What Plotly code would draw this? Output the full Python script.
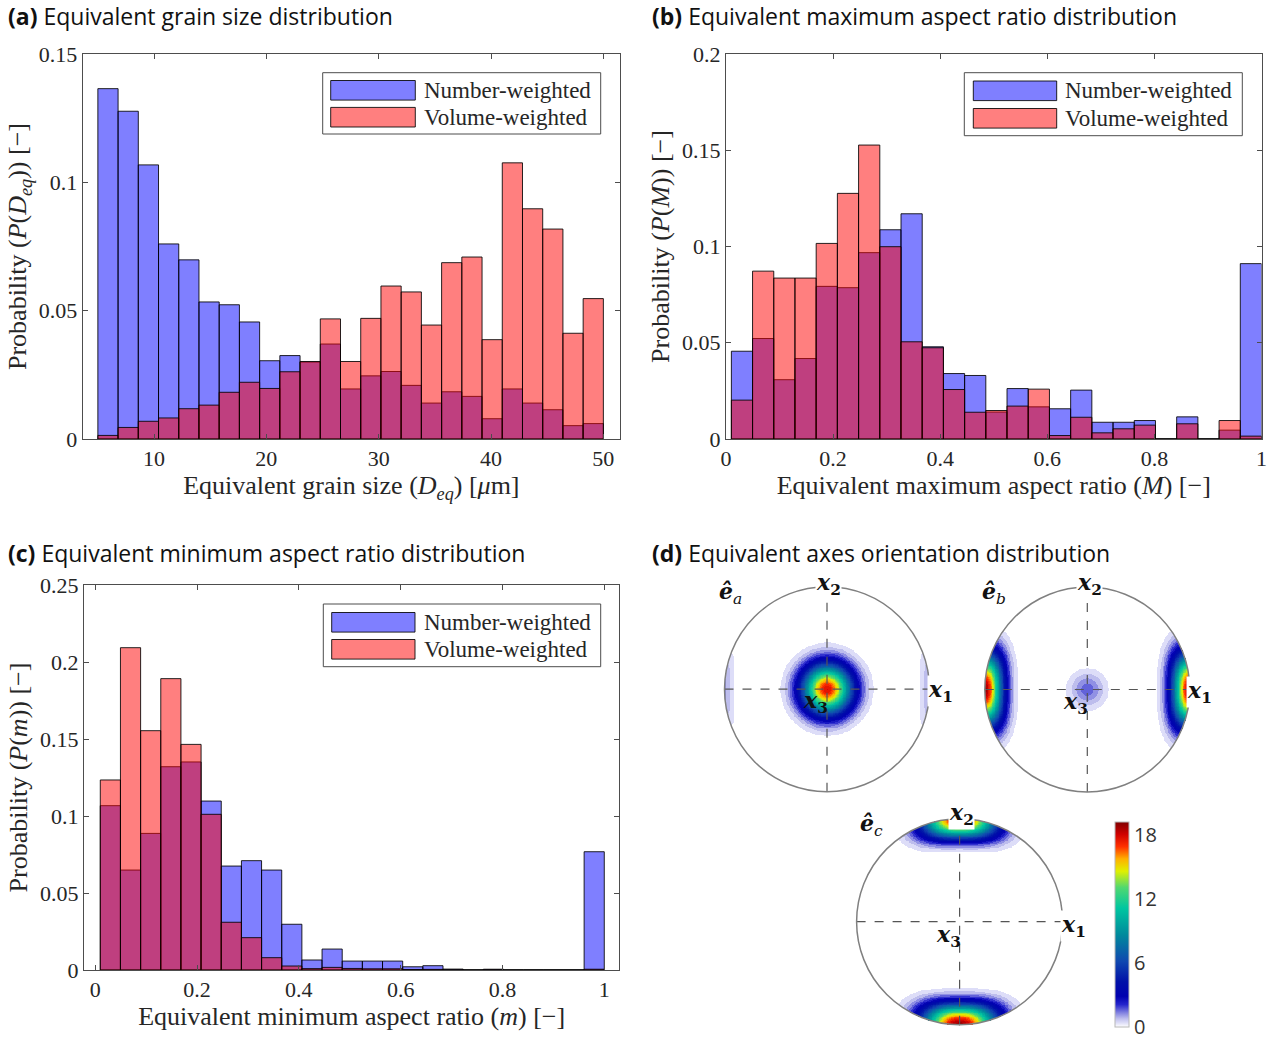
import numpy as np
import plotly.graph_objects as go

W, H = 1279, 1039

# ---------------- data ----------------
grain_size_edges = [5.0, 6.8, 8.6, 10.4, 12.2, 14.0, 15.8, 17.6, 19.4, 21.2, 23.0, 24.8, 26.6,
                    28.4, 30.2, 32.0, 33.8, 35.6, 37.4, 39.2, 41.0, 42.8, 44.6, 46.4, 48.2, 50.0]
grain_size_number = [0.1365, 0.1277, 0.1068, 0.0760, 0.0698, 0.0534, 0.0523, 0.0456, 0.0305,
                     0.0325, 0.0300, 0.0370, 0.0195, 0.0246, 0.0263, 0.0209, 0.0140, 0.0184,
                     0.0166, 0.0079, 0.0195, 0.0140, 0.0114, 0.0052, 0.0060]
grain_size_volume = [0.0014, 0.0045, 0.0069, 0.0082, 0.0118, 0.0132, 0.0182, 0.0221, 0.0197,
                     0.0262, 0.0302, 0.0468, 0.0302, 0.0470, 0.0596, 0.0573, 0.0444, 0.0687,
                     0.0709, 0.0387, 0.1076, 0.0897, 0.0818, 0.0412, 0.0547]

aspect_edges = [0.0100, 0.0496, 0.0892, 0.1288, 0.1684, 0.2080, 0.2476, 0.2872, 0.3268,
                0.3664, 0.4060, 0.4456, 0.4852, 0.5248, 0.5644, 0.6040, 0.6436, 0.6832,
                0.7228, 0.7624, 0.8020, 0.8416, 0.8812, 0.9208, 0.9604, 1.0000]
max_aspect_number = [0.0456, 0.0522, 0.0308, 0.0418, 0.0793, 0.0786, 0.0968, 0.1087, 0.1170,
                     0.0479, 0.0340, 0.0330, 0.0140, 0.0262, 0.0167, 0.0157, 0.0254, 0.0087,
                     0.0087, 0.0096, 0.0000, 0.0115, 0.0000, 0.0046, 0.0911]
max_aspect_volume = [0.0202, 0.0872, 0.0836, 0.0836, 0.1016, 0.1276, 0.1527, 0.0999, 0.0505,
                     0.0474, 0.0257, 0.0139, 0.0148, 0.0171, 0.0259, 0.0018, 0.0113, 0.0032,
                     0.0053, 0.0072, 0.0000, 0.0079, 0.0000, 0.0096, 0.0015]
min_aspect_number = [0.1067, 0.0649, 0.0887, 0.1320, 0.1351, 0.1097, 0.0675, 0.0710, 0.0649,
                     0.0297, 0.0065, 0.0136, 0.0058, 0.0058, 0.0058, 0.0021, 0.0028, 0.0006,
                     0.0000, 0.0005, 0.0000, 0.0000, 0.0000, 0.0000, 0.0768]
min_aspect_volume = [0.1234, 0.2093, 0.1554, 0.1892, 0.1465, 0.1011, 0.0310, 0.0210, 0.0080,
                     0.0026, 0.0009, 0.0017, 0.0010, 0.0008, 0.0008, 0.0003, 0.0004, 0.0001,
                     0.0000, 0.0001, 0.0000, 0.0000, 0.0000, 0.0000, 0.0005]

series_names = ["Number-weighted", "Volume-weighted"]

grain_ticks = [10, 20, 30, 40, 50]
aspect_ticks = [0, 0.2, 0.4, 0.6, 0.8, 1]
prob_ticks_a = [0, 0.05, 0.1, 0.15]
prob_ticks_b = [0, 0.05, 0.1, 0.15, 0.2]
prob_ticks_c = [0, 0.05, 0.1, 0.15, 0.2, 0.25]

# pole-figure density peaks
# centre blobs: (amplitude, sigma)
# rim blobs: (angle deg, amplitude, radial sigma, radial exponent, angular sigma deg, angular exponent)
ea_centre = [(18.0, 0.165)]
ea_rim = [(0, 1.3, 0.06, 1.8, 14, 2.2), (180, 1.3, 0.06, 1.8, 14, 2.2)]
eb_centre = [(1.8, 0.12)]
eb_rim = [(0, 19.0, 0.115, 2.0, 13.8, 2.2), (180, 19.0, 0.115, 2.0, 13.8, 2.2)]
ec_centre = []
ec_rim = [(90, 18.5, 0.13, 2.2, 14.5, 2.2), (270, 19.0, 0.14, 2.2, 14.5, 2.2)]
colorbar_ticks = [0, 6, 12, 18]
density_max = 19.25

# ---------------- helpers ----------------
def px(x):
    return x / W


def py(y):
    return 1 - y / H


SERIF = "Liberation Serif"
SANS = "Open Sans"
FRAME = "#4d4d4d"
BLUE = "rgba(0,0,255,0.5)"
RED = "rgba(255,0,0,0.5)"
EDGE = "rgba(0,0,0,0.85)"

fig = go.Figure()


def add_hist(edges, number, volume, xa, ya):
    e = np.array(edges)
    centres = (e[:-1] + e[1:]) / 2
    widths = e[1:] - e[:-1]
    for vals, col, name in [(number, BLUE, series_names[0]), (volume, RED, series_names[1])]:
        fig.add_trace(go.Bar(x=centres, y=vals, width=widths, name=name,
                             marker=dict(color=col, line=dict(color=EDGE, width=1)),
                             xaxis=xa, yaxis=ya, showlegend=False, hoverinfo="x+y"))


add_hist(grain_size_edges, grain_size_number, grain_size_volume, "x", "y")
add_hist(aspect_edges, max_aspect_number, max_aspect_volume, "x2", "y2")
add_hist(aspect_edges, min_aspect_number, min_aspect_volume, "x3", "y3")

tickfont = dict(family=SERIF, size=22, color="#262626")
titlefont = dict(family=SERIF, size=26, color="#262626")


def xax(domain, rng, ticks, title, anchor):
    return dict(domain=domain, range=rng, tickvals=ticks, anchor=anchor,
                showline=True, mirror="ticks", linecolor=FRAME, linewidth=1,
                ticks="inside", ticklen=5, tickcolor=FRAME, showgrid=False, zeroline=False,
                tickfont=tickfont, title=dict(text=title, font=titlefont, standoff=2),
                fixedrange=True)


def yax(domain, rng, ticks, title, anchor):
    return dict(domain=domain, range=rng, tickvals=ticks, anchor=anchor,
                showline=True, mirror="ticks", linecolor=FRAME, linewidth=1,
                ticks="inside", ticklen=5, tickcolor=FRAME, showgrid=False, zeroline=False,
                tickfont=tickfont, title=dict(text=title, font=titlefont, standoff=4),
                fixedrange=True)


layout = dict(
    width=W, height=H, margin=dict(l=0, r=0, t=0, b=0, autoexpand=False),
    paper_bgcolor="white", plot_bgcolor="white", barmode="overlay", showlegend=False,
    xaxis=xax([px(82.7), px(620)], [3.65, 51.48], grain_ticks,
              "Equivalent grain size (<i>D</i><sub><i>eq</i></sub>) [<i>μ</i>m]", "y"),
    yaxis=yax([py(439), py(54)], [0, 0.15], prob_ticks_a,
              "Probability (<i>P</i>(<i>D</i><sub><i>eq</i></sub>)) [−]", "x"),
    xaxis2=xax([px(726), px(1261.5)], [0, 1], aspect_ticks,
               "Equivalent maximum aspect ratio (<i>M</i>) [−]", "y2"),
    yaxis2=yax([py(439), py(54)], [0, 0.2], prob_ticks_b,
               "Probability (<i>P</i>(<i>M</i>)) [−]", "x2"),
    xaxis3=xax([px(84), px(619.3)], [-0.022, 1.0295], aspect_ticks,
               "Equivalent minimum aspect ratio (<i>m</i>) [−]", "y3"),
    yaxis3=yax([py(970), py(585)], [0, 0.25], prob_ticks_c,
               "Probability (<i>P</i>(<i>m</i>)) [−]", "x3"),
)

# ---------------- pole figures ----------------
N = 261
g = np.linspace(-1, 1, N)
X, Y = np.meshgrid(g, g)
R = np.sqrt(X ** 2 + Y ** 2)
TH = np.degrees(np.arctan2(Y, X))


def density(centre, rim):
    z = np.zeros_like(X)
    for amp, s in centre:
        z += amp * np.exp(-(X ** 2 + Y ** 2) / (2 * s ** 2))
    for th0, amp, sr, pr, sth, pth in rim:
        d = np.abs((TH - th0 + 180) % 360 - 180)
        dr = np.abs(1 - R)
        z += amp * np.exp(-0.5 * (dr / sr) ** pr) * np.exp(-0.5 * (d / sth) ** pth)
    z = np.floor(z / 0.4) * 0.4
    z = np.where((R <= 1.0) & (z >= 0.2), z, np.nan)
    return z


colorscale = [
    [0.00, "#ffffff"], [0.02, "#dedef8"], [0.04, "#c0c0ee"], [0.07, "#8080e0"],
    [0.11, "#2424cc"], [0.15, "#0000b0"], [0.22, "#0010a8"], [0.32, "#1048b0"],
    [0.45, "#008a9c"], [0.58, "#00c6a0"], [0.68, "#50d870"], [0.76, "#e0f000"],
    [0.82, "#ffb000"], [0.88, "#ff3000"], [0.94, "#d00000"], [1.00, "#800000"],
]

poles = [
    # name, centre, rim, cx, cy, r, axis index
    ("a", ea_centre, ea_rim, 827.0, 689.2, 102.5, 4),
    ("b", eb_centre, eb_rim, 1087.3, 689.5, 102.5, 5),
    ("c", ec_centre, ec_rim, 959.6, 921.7, 103.0, 6),
]
PAD = 1.04
shapes = []
annotations = []
for name, cen, rim, cx, cy, rr, k in poles:
    z = density(cen, rim)
    zl = [[None if np.isnan(v) else float(v) for v in row] for row in z]
    tr = dict(x=g, y=g, z=zl, colorscale=colorscale, zmin=0, zmax=density_max,
              zsmooth=False, xaxis=f"x{k}", yaxis=f"y{k}", hoverinfo="skip",
              showscale=(name == "c"))
    if name == "c":
        tr["colorbar"] = dict(x=px(1115), xanchor="left", thickness=14,
                              len=(1026.7 - 821.7) / H, lenmode="fraction",
                              y=py(924.2), yanchor="middle", ypad=0, xpad=0,
                              outlinewidth=1, outlinecolor="#b8b8b8",
                              tickvals=colorbar_ticks, ticks="", ticklabeloverflow="allow",
                              tickfont=dict(family=SANS, size=20, color="#333333"))
    fig.add_trace(go.Heatmap(**tr))
    layout[f"xaxis{k}"] = dict(domain=[px(cx - PAD * rr), px(cx + PAD * rr)], range=[-PAD, PAD],
                               visible=False, fixedrange=True, anchor=f"y{k}")
    layout[f"yaxis{k}"] = dict(domain=[py(cy + PAD * rr), py(cy - PAD * rr)], range=[-PAD, PAD],
                               visible=False, fixedrange=True, anchor=f"x{k}")
    shapes.append(dict(type="line", xref=f"x{k}", yref=f"y{k}", x0=-1, x1=1, y0=0, y1=0,
                       line=dict(color="#555555", width=1.2, dash="dash"), layer="above"))
    shapes.append(dict(type="line", xref=f"x{k}", yref=f"y{k}", x0=0, x1=0, y0=-1, y1=1,
                       line=dict(color="#555555", width=1.2, dash="dash"), layer="above"))
    shapes.append(dict(type="circle", xref=f"x{k}", yref=f"y{k}", x0=-1, x1=1, y0=-1, y1=1,
                       line=dict(color="#808080", width=1.5), layer="above"))

# pole-figure labels
lab_font = dict(family="DejaVu Serif", size=22, color="#111111")
xlab = lambda i: f"<b><i>x</i></b><sub><b>{i}</b></sub>"
pole_labels = [
    # text, x, y, bg
    ("<b><i>ê</i></b><sub><i>a</i></sub>", 730, 593, False),
    (xlab(2), 828, 584, True), (xlab(1), 940, 691, True), (xlab(3), 815, 702, False),
    ("<b><i>ê</i></b><sub><i>b</i></sub>", 994, 593, False),
    (xlab(2), 1089, 584, True), (xlab(1), 1199, 692, True), (xlab(3), 1075, 703, False),
    ("<b><i>ê</i></b><sub><i>c</i></sub>", 871, 825, False),
    (xlab(2), 961, 814, True), (xlab(1), 1073, 926, True), (xlab(3), 948, 936, False),
]
for t, x, y, bg in pole_labels:
    annotations.append(dict(text=t, x=px(x), y=py(y), xref="paper", yref="paper",
                            showarrow=False, font=lab_font, xanchor="center", yanchor="middle",
                            bgcolor="white" if bg else "rgba(0,0,0,0)", borderpad=0))

# ---------------- panel titles ----------------
panel_titles = [
    ("<b>(a)</b> Equivalent grain size distribution", 6, 16),
    ("<b>(b)</b> Equivalent maximum aspect ratio distribution", 650, 16),
    ("<b>(c)</b> Equivalent minimum aspect ratio distribution", 6, 553),
    ("<b>(d)</b> Equivalent axes orientation distribution", 650, 553),
]
for t, x, y in panel_titles:
    annotations.append(dict(text=t, x=px(x), y=py(y), xref="paper", yref="paper",
                            showarrow=False, xanchor="left", yanchor="middle",
                            font=dict(family=SANS, size=23, color="#111111")))

# ---------------- legends (MATLAB style boxes) ----------------
legends = [
    # box x0, y0, x1, y1, swatch x0, x1, text x, row centres
    (322.7, 72.7, 600.7, 134.0, 330.7, 415.3, 421.7, (90.3, 117.2)),
    (964.3, 72.7, 1242.3, 135.7, 973.3, 1056.7, 1063.3, (90.8, 118.3)),
    (323.3, 604.0, 600.7, 666.7, 331.7, 415.0, 421.7, (622.3, 649.3)),
]
for bx0, by0, bx1, by1, sx0, sx1, tx, rows in legends:
    shapes.append(dict(type="rect", xref="paper", yref="paper", x0=px(bx0), x1=px(bx1),
                       y0=py(by1), y1=py(by0), line=dict(color=FRAME, width=1),
                       fillcolor="white", layer="above"))
    for (name, col), rc in zip(zip(series_names, [BLUE, RED]), rows):
        shapes.append(dict(type="rect", xref="paper", yref="paper", x0=px(sx0), x1=px(sx1),
                           y0=py(rc + 9.8), y1=py(rc - 9.8), line=dict(color=EDGE, width=1),
                           fillcolor=col, layer="above"))
        annotations.append(dict(text=name, x=px(tx), y=py(rc), xref="paper", yref="paper",
                                showarrow=False, xanchor="left", yanchor="middle",
                                font=dict(family=SERIF, size=23, color="#262626")))

layout["shapes"] = shapes
layout["annotations"] = annotations
fig.update_layout(**layout)
# remove the browser's default 8 px body margin so the figure fills the window exactly
fig.write_html("out.html", config={"displayModeBar": False},
               post_script="document.body.style.margin='0';")
